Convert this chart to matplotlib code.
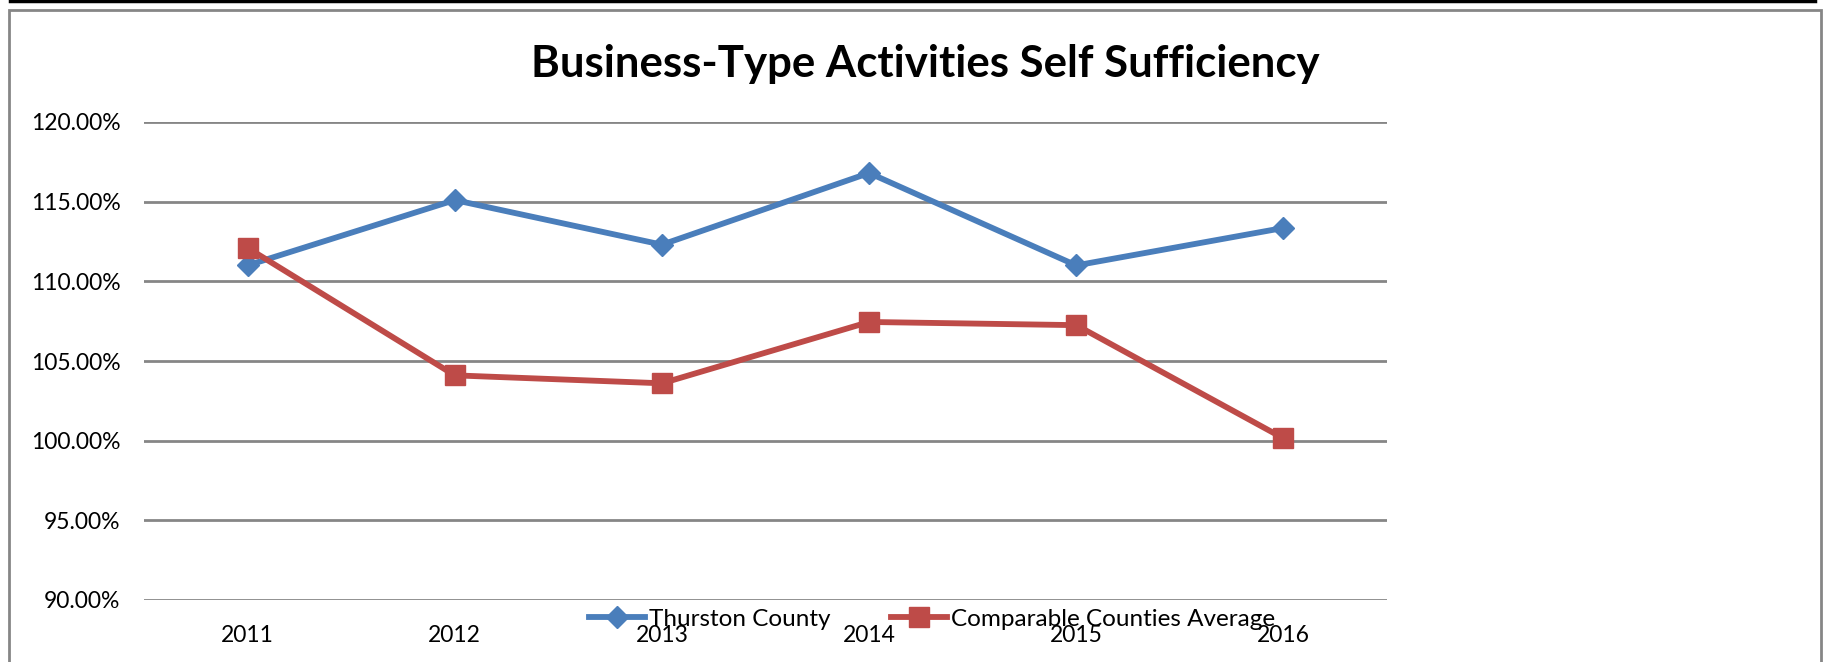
import matplotlib
matplotlib.use("Agg")
import matplotlib.pyplot as plt
from matplotlib.patches import Rectangle
from matplotlib.lines import Line2D
from matplotlib.ticker import FuncFormatter

plt.rcParams['font.family'] = ['Lato', 'DejaVu Sans']

# data
years = ['2011', '2012', '2013', '2014', '2015', '2016']
thurston = [111.0, 115.1, 112.3, 116.8, 111.0, 113.35]
comparable = [112.1, 104.1, 103.6, 107.45, 107.25, 100.15]
y_ticks = [90, 95, 100, 105, 110, 115, 120]

W, H = 1841, 662
fig = plt.figure(figsize=(W / 100, H / 100), dpi=100)

# chart area border + top line
fig.add_artist(Rectangle((9 / W, -0.05), (1821 - 9) / W, (H - 10) / H + 0.05,
                         transform=fig.transFigure, fill=False,
                         edgecolor='#868686', linewidth=2))
fig.add_artist(Line2D([10 / W, 1815 / W], [1 - 1 / H, 1 - 1 / H],
                      transform=fig.transFigure, color='black', linewidth=2.5))

ax = fig.add_axes([144 / W, 62 / H, (1387 - 144) / W, (600 - 122) / H])
x = range(len(years))

ax.plot(x, thurston, color='#4A7EBB', linewidth=4.2, marker='D', markersize=11.5,
        label='Thurston County', zorder=3)
ax.plot(x, comparable, color='#BE4B48', linewidth=4.2, marker='s', markersize=15,
        label='Comparable Counties Average', zorder=3)

ax.set_xlim(-0.5, 5.5)
ax.set_ylim(90, 120)
ax.set_yticks(y_ticks)
ax.yaxis.set_major_formatter(FuncFormatter(lambda v, p: f'{v:.2f}%'))
ax.set_xticks(list(x))
ax.set_xticklabels(years)
ax.tick_params(length=0, labelsize=16.5, colors='black')
ax.tick_params(axis='y', pad=17)
ax.tick_params(axis='x', pad=18)
ax.grid(axis='y', color='#868686', linewidth=2)
ax.set_axisbelow(True)
for s in ax.spines.values():
    s.set_visible(False)

fig.text(925 / W, 1 - 64 / H, 'Business-Type Activities Self Sufficiency',
         ha='center', va='center', fontsize=31.5, fontweight='bold')

fig.legend(loc='center', bbox_to_anchor=(932 / W, 1 - 619 / H), ncol=2,
           frameon=False, fontsize=17.5, handlelength=2.3, handletextpad=0.15,
           columnspacing=2.5, borderaxespad=0)

fig.savefig('out.png', dpi=100)
